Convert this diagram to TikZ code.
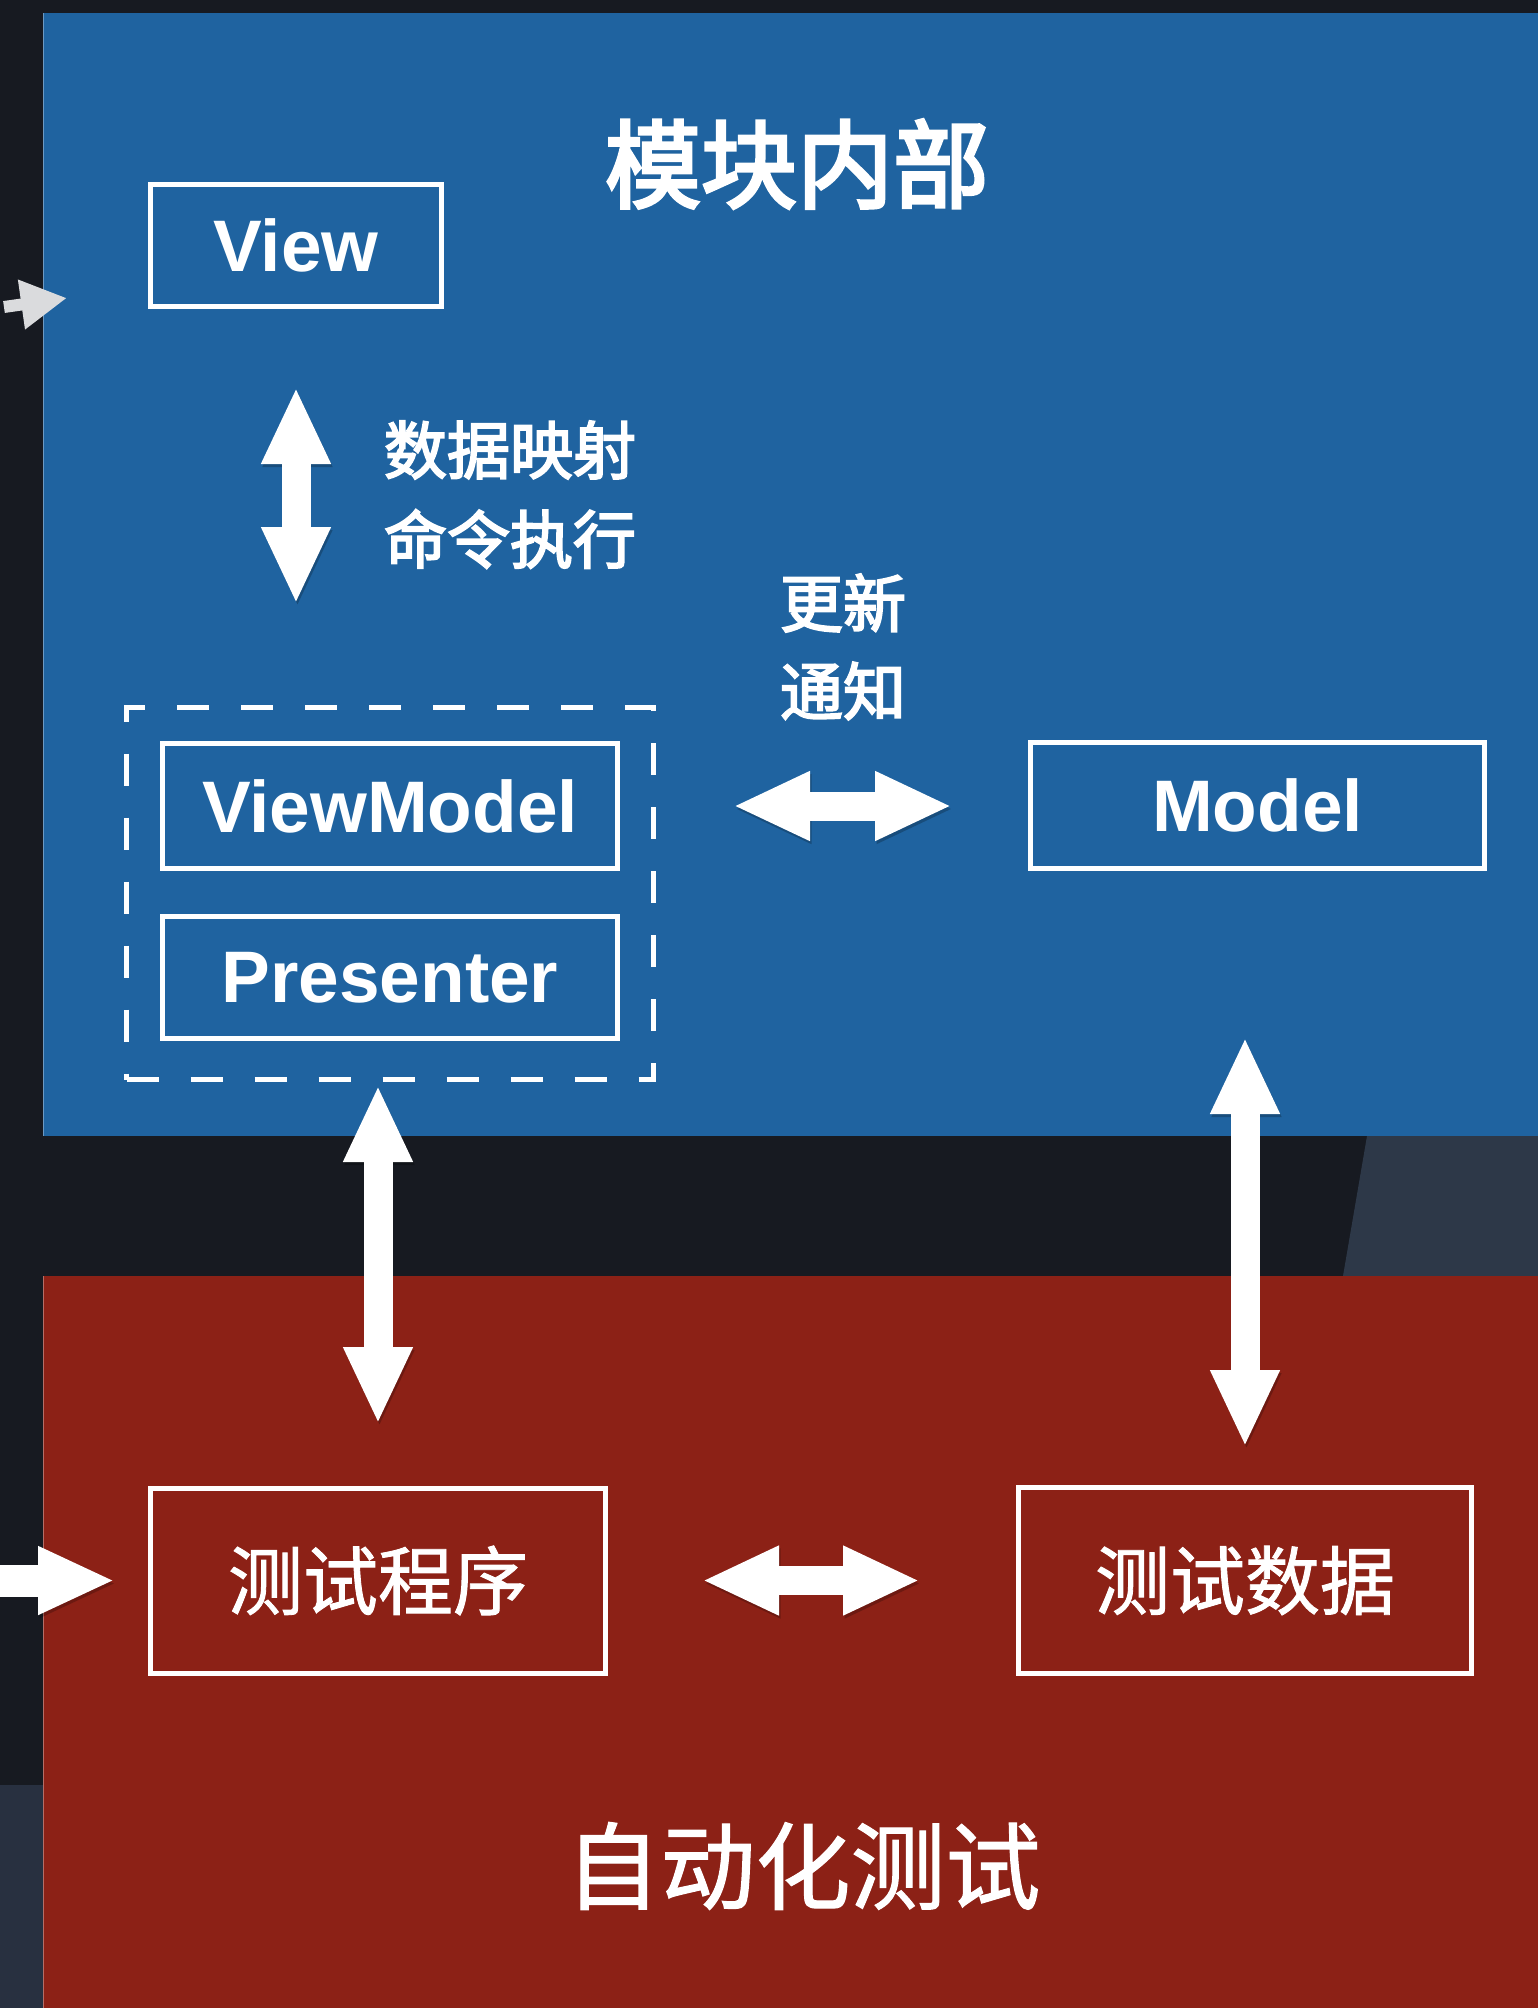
\documentclass[tikz,border=0pt]{standalone}
\usepackage{fontspec}
\setmainfont{Liberation Sans}
\newfontfamily\cjk{Noto Sans CJK SC}
\newfontfamily\cjkm{Noto Sans CJK SC}[FakeBold=1.2]
\newfontfamily\cjkmb{Noto Sans CJK SC}[FakeBold=3]
\newfontfamily\cjkb{Noto Sans CJK SC}[FakeBold=3.4]
\usetikzlibrary{arrows.meta}
\definecolor{bgdark}{HTML}{171A21}
\definecolor{bggray}{HTML}{2D3848}
\definecolor{bggray2}{HTML}{283040}
\definecolor{panelblue}{HTML}{1F63A0}
\definecolor{panelred}{HTML}{8C2116}
\definecolor{ingray}{HTML}{DADBDD}
\tikzset{
  boxframe/.style={draw=white, line width=5pt, inner sep=0pt, outer sep=0pt, text=white},
  entext/.style={font=\fontsize{73}{80}\selectfont\bfseries},
  cjkbox/.style={font=\cjkm\fontsize{75}{80}\selectfont},
  lbl/.style={text=white, inner sep=0pt, font=\cjkmb\fontsize{63}{70}\selectfont},
  ttl/.style={text=white, inner sep=0pt, font=\cjkb\fontsize{96}{100}\selectfont},
  bigttl/.style={text=white, inner sep=0pt, font=\cjkm\fontsize{95}{100}\selectfont},
  shadowed/.style={preaction={draw=black, opacity=0.22, transform canvas={shift={(1.5pt,-3pt)}}}},
  dbl/.style={draw=white, line width=29pt, shadowed,
    arrows={Triangle[length=77pt,width=64pt]-Triangle[length=77pt,width=64pt]}},
  single/.style={draw=white, line width=32pt, shadowed,
    arrows={-Triangle[length=77pt,width=63pt]}},
  grayin/.style={draw=ingray, line width=12pt,
    arrows={-Triangle[length=46pt,width=47pt]}}
}
\begin{document}
\begin{tikzpicture}[x=1pt,y=-1pt]
\useasboundingbox (0,0) rectangle (1538,2008);
% backgrounds
\fill[bgdark] (0,0) rectangle (1538,2008);
\fill[bggray] (1367,1136) -- (1538,1136) -- (1538,1276) -- (1343,1276) -- cycle;
\fill[bggray2] (0,1785) rectangle (43,2008);
\fill[panelblue] (43,13) rectangle (1538,1136);
\fill[panelred] (43,1276) rectangle (1538,2008);
\draw[white, opacity=0.35, line width=1pt] (43.5,13) -- (43.5,1136);
\draw[white, opacity=0.35, line width=1pt] (43.5,1276) -- (43.5,2008);

% titles and labels
\node[ttl] (title) at (797,164) {模块内部};
\node[lbl] (lab1) at (510,450) {数据映射};
\node[lbl] (lab2) at (510,539) {命令执行};
\node[lbl] (lab3) at (843,603) {更新};
\node[lbl] (lab4) at (843,691) {通知};
\node[bigttl] (bottom) at (803,1866) {自动化测试};

% boxes
\node[boxframe, entext, minimum width=291pt, minimum height=122pt] (view) at (296,245.5) {View};
\node[boxframe, dashed, dash pattern=on 32pt off 32pt, minimum width=527pt, minimum height=372pt] (grp) at (390,893.5) {};
\node[boxframe, entext, minimum width=455pt, minimum height=125pt] (vm) at (390,806) {ViewModel};
\node[boxframe, entext, minimum width=455pt, minimum height=122pt] (pres) at (390,977.5) {Presenter};
\node[boxframe, entext, minimum width=454pt, minimum height=126pt] (model) at (1257.5,805.5) {Model};
\node[boxframe, cjkbox, minimum width=455pt, minimum height=185pt] (tprog) at (378,1580.5) {测试程序};
\node[boxframe, cjkbox, minimum width=453pt, minimum height=186pt] (tdata) at (1245,1580.5) {测试数据};

% connectors
\draw[dbl, shorten <=80.5pt, shorten >=103.5pt] (view.south) -- (view.south |- grp.north);
\draw[dbl, shorten <=79.5pt, shorten >=78.5pt] (grp.east |- vm.east) -- (model.west |- vm.east);
\draw[dbl, shorten <=5.5pt, shorten >=64pt] (tprog.north |- grp.south) -- (tprog.north);
\draw[dbl, shorten <=168.5pt, shorten >=40.5pt] (tdata.north |- model.south) -- (tdata.north);
\draw[dbl, shorten <=96.5pt, shorten >=98.5pt] (tprog.east) -- (tdata.west);

% incoming arrows
\coordinate (inA) at (4,307);
\coordinate (inAtip) at (67,298);
\draw[grayin] (inA) -- (inAtip);
\coordinate (inB) at (0,1580.5);
\draw[single, shorten >=35.5pt] (inB) -- (tprog.west);
\end{tikzpicture}
\end{document}
